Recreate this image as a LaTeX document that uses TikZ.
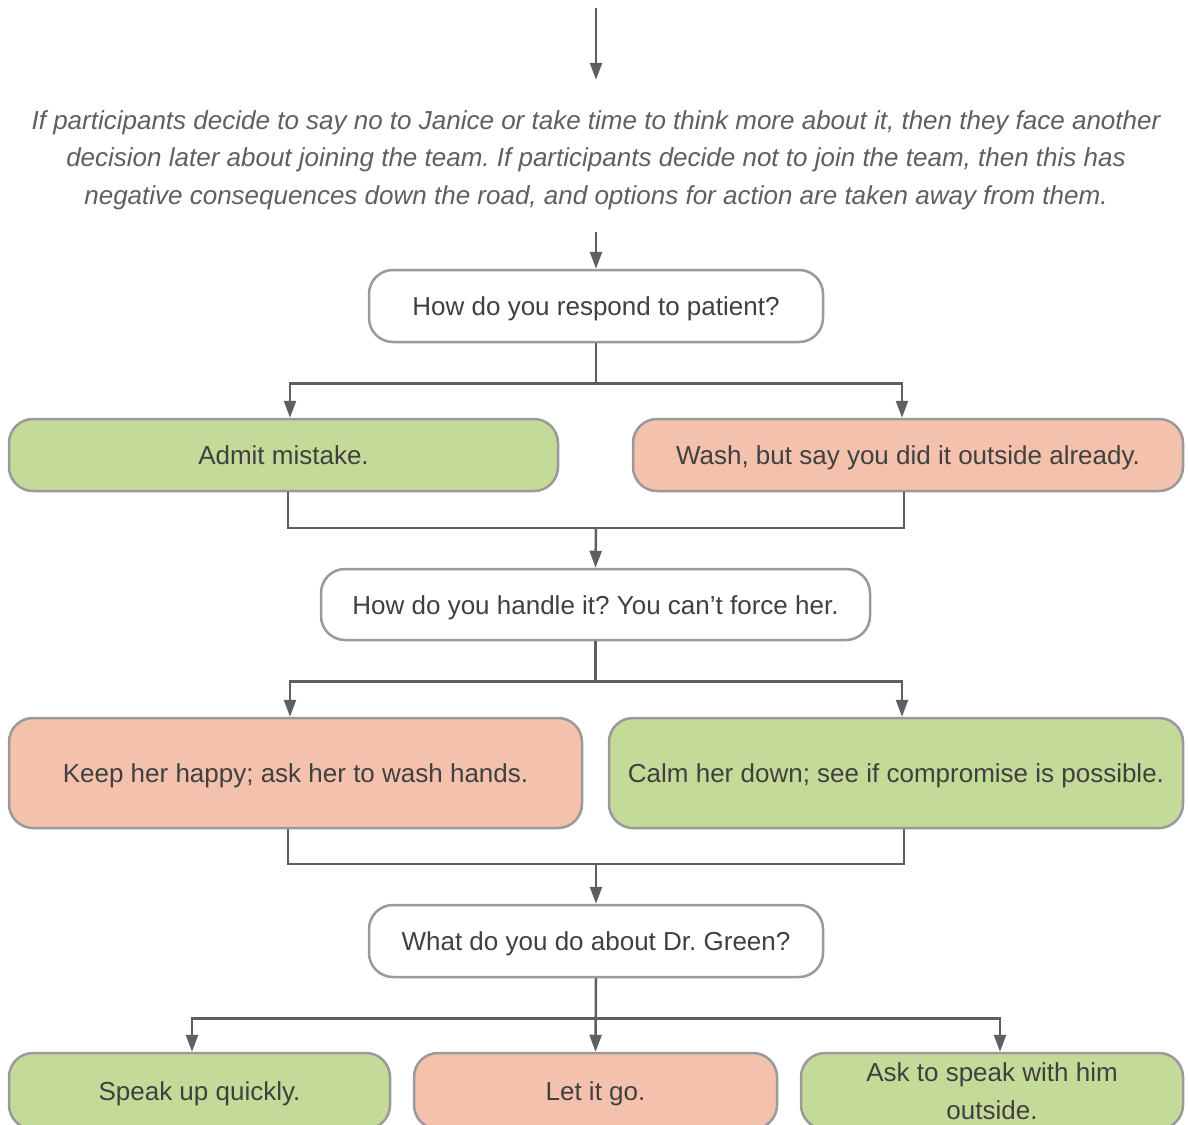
\documentclass[tikz,border=0pt]{standalone}
\usepackage{fontspec}
\setmainfont{Liberation Sans}
\usetikzlibrary{arrows.meta}
\usetikzlibrary{positioning}
\frenchspacing
\definecolor{mgreen}{HTML}{C4DA98}
\definecolor{mred}{HTML}{F4C1AD}
\definecolor{mline}{HTML}{5F5F5F}
\definecolor{mborder}{HTML}{9A9A9A}
\definecolor{mtext}{HTML}{404040}
\tikzset{box/.style = {draw = mborder, line width = 2.5pt, rounded corners = 24pt,
                       text = mtext, font = \fontsize{26}{38}\selectfont,
                       align = center, inner sep = 0pt, text height = 22pt, text depth = 3pt},
         arr/.style = {draw = mline, line width = 2.5pt, -{Triangle[length=17pt, width=12pt]}},
         ln/.style = {draw = mline, line width = 2.5pt}}

\begin{document}
\begin{tikzpicture}[x = 1pt, y = -1pt]
      \path [use as bounding box, clip] (0, 0) rectangle (1188, 1124);
      \coordinate (start) at (596, 8);
      \node (note) [inner sep = 0pt, minimum height = 152pt, align = center, text = mline,
                    font = \fontsize{26}{37.5}\selectfont\itshape] at (596, 160)
            {If participants decide to say no to Janice or take time to think more about it, then they face another\\
             decision later about joining the team. If participants decide not to join the team, then this has\\
             negative consequences down the road, and options for action are taken away from them.};
      \node (q1) [box, fill = white, minimum width = 454pt, minimum height = 72pt] at (596, 306) {How do you respond to patient?};
      \node (a1) [box, fill = mgreen, minimum width = 549pt, minimum height = 72pt] at (283.5, 455) {Admit mistake.};
      \node (a2) [box, fill = mred, minimum width = 550pt, minimum height = 72pt] at (908, 455) {Wash, but say you did it outside already.};
      \node (q2) [box, fill = white, minimum width = 549pt, minimum height = 71pt] at (595.5, 604.5) {How do you handle it? You can’t force her.};
      \node (b1) [box, fill = mred, minimum width = 573pt, minimum height = 110pt] at (295.5, 773) {Keep her happy; ask her to wash hands.};
      \node (b2) [box, fill = mgreen, minimum width = 574pt, minimum height = 110pt] at (896, 773) {Calm her down; see if compromise is possible.};
      \node (q3) [box, fill = white, minimum width = 454pt, minimum height = 72pt] at (596, 941) {What do you do about Dr. Green?};
      \node (c1) [box, fill = mgreen, minimum width = 381pt, minimum height = 76pt] at (199.5, 1091) {Speak up quickly.};
      \node (c2) [box, fill = mred, minimum width = 363pt, minimum height = 76pt] at (595.5, 1091) {Let it go.};
      \node (c3) [box, fill = mgreen, minimum width = 382pt, minimum height = 76pt, text height = {}, text depth = {}] at (992, 1091) {Ask to speak with him\\outside.};
      \coordinate (m1) at (596, 528);
      \coordinate (m2) at (596, 864);
      % connectors
      \draw [arr, shorten >= 4pt] (start) -- (note.north);
      \draw [arr, shorten <= -4pt] (note.south) -- (q1.north);
      \draw [arr] (q1.south) -- ++(0, 40) -| ([xshift = 6.5pt]a1.north);
      \draw [arr] (q1.south) -- ++(0, 40) -| ([xshift = -6pt]a2.north);
      \draw [ln] ([xshift = 4.5pt]a1.south) |- (m1) -| ([xshift = -4pt]a2.south);
      \draw [arr] (m1) -- (q2.north);
      \draw [arr] (q2.south) -- ++(0, 40) -| ([xshift = -5.5pt]b1.north);
      \draw [arr] (q2.south) -- ++(0, 40) -| ([xshift = 6pt]b2.north);
      \draw [ln] ([xshift = -7.5pt]b1.south) |- (m2) -| ([xshift = 8pt]b2.south);
      \draw [arr] (m2) -- (q3.north);
      \draw [arr] (q3.south) -- ++(0, 40) -| ([xshift = -7.5pt]c1.north);
      \draw [arr] (q3.south) -- (c2.north);
      \draw [arr] (q3.south) -- ++(0, 40) -| ([xshift = 8pt]c3.north);
    \end{tikzpicture}
\end{document}
